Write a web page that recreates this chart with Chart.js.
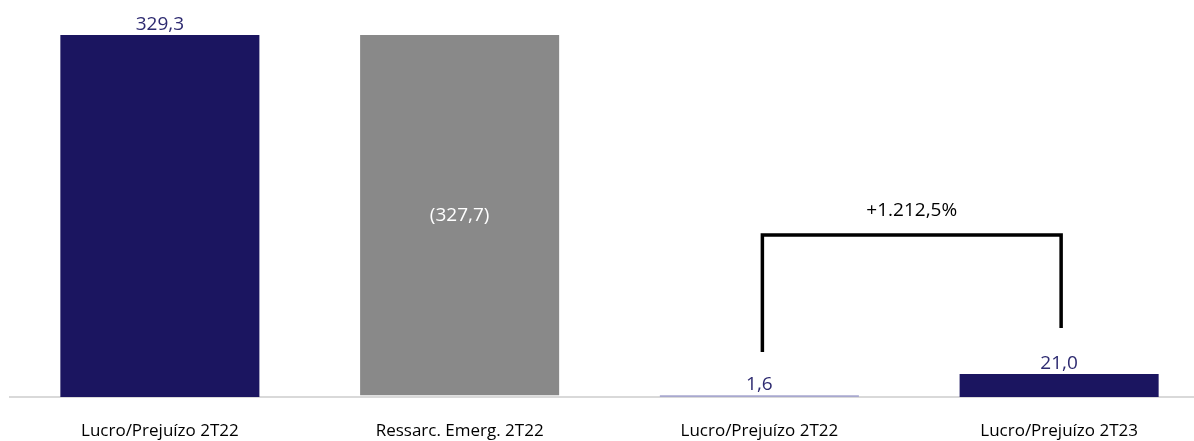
<!DOCTYPE html>
<html>
<head>
<meta charset="utf-8">
<script src="https://cdn.jsdelivr.net/npm/chart.js@4"></script>
<style>
html,body{margin:0;padding:0;background:#fff;overflow:hidden;width:1194px;height:441px;}
#wrap{position:absolute;left:0;top:0;width:1209px;height:441px;}
</style>
</head>
<body>
<div id="wrap"><canvas id="c"></canvas></div>
<script>
const categories = ['Lucro/Prejuízo 2T22', 'Ressarc. Emerg. 2T22', 'Lucro/Prejuízo 2T22', 'Lucro/Prejuízo 2T23'];
const steps = [329.3, -327.7, null, null];      // waterfall steps
const totals = [null, null, 1.6, 21.0];           // total bars
const valueLabels = ['329,3', '(327,7)', '1,6', '21,0'];
const barColors = ['#1b1560', '#898989', '#a8a8cf', '#1b1560'];
const labelColors = ['#2d2a70', '#ffffff', '#2d2a70', '#2d2a70'];
const labelInside = [false, true, false, false];
const bracketIdx = [2, 3];
const bracketBottoms = [41.0, 62.8];
const bracketTop = 147.4;
const bracketText = '+1.212,5%';
const bracketTextValue = 169.5;

// build floating ranges
let run = 0;
const ranges = categories.map((c, i) => {
  if (totals[i] !== null) { run = totals[i]; return [0, totals[i]]; }
  const start = run, end = run + steps[i];
  run = end;
  return [Math.min(start, end), Math.max(start, end)];
});

const labelPlugin = {
  id: 'labels',
  afterDatasetsDraw(chart) {
    const ctx = chart.ctx;
    const meta = chart.getDatasetMeta(0);
    const y = chart.scales.y, x = chart.scales.x;
    ctx.save();
    ctx.font = '19px "Open Sans", sans-serif';
    ctx.textAlign = 'center';
    meta.data.forEach((bar, i) => {
      ctx.fillStyle = labelColors[i];
      if (labelInside[i]) {
        ctx.textBaseline = 'middle';
        ctx.fillText(valueLabels[i], bar.x, (y.getPixelForValue(ranges[i][0]) + y.getPixelForValue(ranges[i][1])) / 2);
      } else {
        ctx.textBaseline = 'bottom';
        ctx.fillText(valueLabels[i], bar.x, y.getPixelForValue(ranges[i][1]) - 1);
      }
    });
    // bracket
    const xl = x.getPixelForValue(bracketIdx[0]) + 3;
    const xr = x.getPixelForValue(bracketIdx[1]) + 2;
    const yt = y.getPixelForValue(bracketTop);
    ctx.strokeStyle = '#000';
    ctx.lineWidth = 3.5;
    ctx.lineCap = 'butt';
    ctx.beginPath();
    ctx.moveTo(xl, y.getPixelForValue(bracketBottoms[0]));
    ctx.lineTo(xl, yt);
    ctx.lineTo(xr, yt);
    ctx.lineTo(xr, y.getPixelForValue(bracketBottoms[1]));
    ctx.stroke();
    ctx.fillStyle = '#000';
    ctx.textBaseline = 'middle';
    ctx.fillText(bracketText, (xl + xr) / 2, y.getPixelForValue(bracketTextValue));
    ctx.restore();
  }
};

new Chart(document.getElementById('c'), {
  type: 'bar',
  data: {
    labels: categories,
    datasets: [{
      data: ranges,
      backgroundColor: barColors,
      borderWidth: 0,
      categoryPercentage: 1,
      barPercentage: 0.664
    }]
  },
  options: {
    responsive: true,
    maintainAspectRatio: false,
    animation: false,
    events: [],
    layout: { padding: { left: 10, right: 0, top: 0, bottom: 0 } },
    plugins: { legend: { display: false }, tooltip: { enabled: false } },
    scales: {
      x: {
        grid: { display: false, drawTicks: false },
        border: { display: true, color: '#d9d9d9', width: 2 },
        ticks: { color: '#000', font: { family: '"Open Sans", sans-serif', size: 17 }, padding: 24, maxRotation: 0 },
        afterFit: (s) => { s.height = 44; }
      },
      y: {
        display: false,
        min: 0,
        max: 361.1
      }
    }
  },
  plugins: [labelPlugin]
});
</script>
</body>
</html>
